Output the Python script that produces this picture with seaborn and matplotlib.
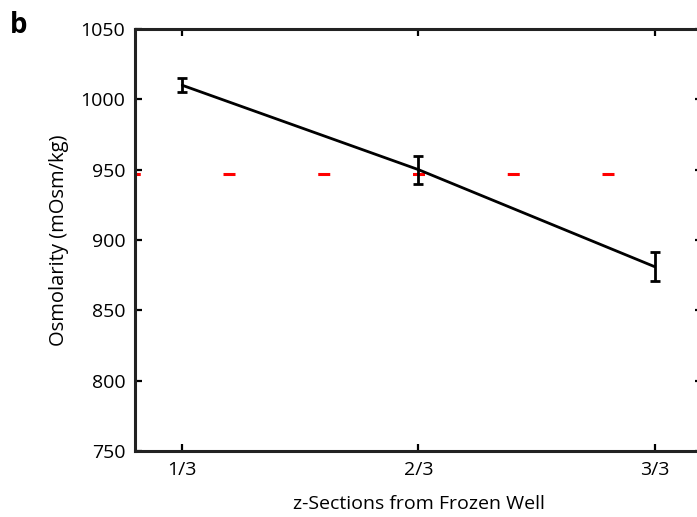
import matplotlib
matplotlib.use("Agg")
import matplotlib.pyplot as plt
import seaborn as sns
import pandas as pd

# Osmolarity measured in three z-sections of a frozen well
sections = ["1/3", "2/3", "3/3"]
osmolarity = [1010, 950, 881]
osm_err = [5, 10, 10.5]
reference_osm = 947

sns.set_theme(style="ticks")
plt.rcParams["font.family"] = ["Open Sans", "DejaVu Sans"]
plt.rcParams["lines.scale_dashes"] = False
plt.rcParams["text.color"] = "black"
plt.rcParams["axes.labelcolor"] = "black"

df = pd.DataFrame({"pos": range(1, len(sections) + 1),
                   "section": sections,
                   "osm": osmolarity,
                   "err": osm_err})

fig = plt.figure(figsize=(6.97, 5.17), dpi=100)
ax = fig.add_axes([135 / 697, (517 - 451) / 517, (702 - 135) / 697, (451 - 29) / 517])

# reference level
ax.axhline(reference_osm, color="#ff0000", lw=2.2,
           linestyle=(4.86, (8.64, 59.58)), zorder=1)

sns.lineplot(data=df, x="pos", y="osm", color="black", lw=2.0, ax=ax, zorder=3)
ax.errorbar(df["pos"], df["osm"], yerr=df["err"], fmt="none", ecolor="black",
            elinewidth=2.0, capsize=3.4, capthick=2.0, zorder=4)

ax.set_xlim(0.8, 3.2)
ax.set_ylim(750, 1050)
ax.set_xticks(df["pos"])
ax.set_xticklabels(sections)
ax.set_yticks(range(750, 1051, 50))

ax.tick_params(direction="in", length=5, width=1.6, labelsize=14, pad=7,
               top=True, right=True, colors="black")
for s in ax.spines.values():
    s.set_linewidth(2.2)
    s.set_color("#222222")
    s.set_visible(True)

ax.set_xlabel("z-Sections from Frozen Well", fontsize=14, labelpad=12)
ax.set_ylabel("Osmolarity (mOsm/kg)", fontsize=14.5, labelpad=8)

fig.text(10 / 697, 1 - 33 / 517, "b", fontsize=20, fontweight="bold")

fig.savefig("out.png", dpi=100)
